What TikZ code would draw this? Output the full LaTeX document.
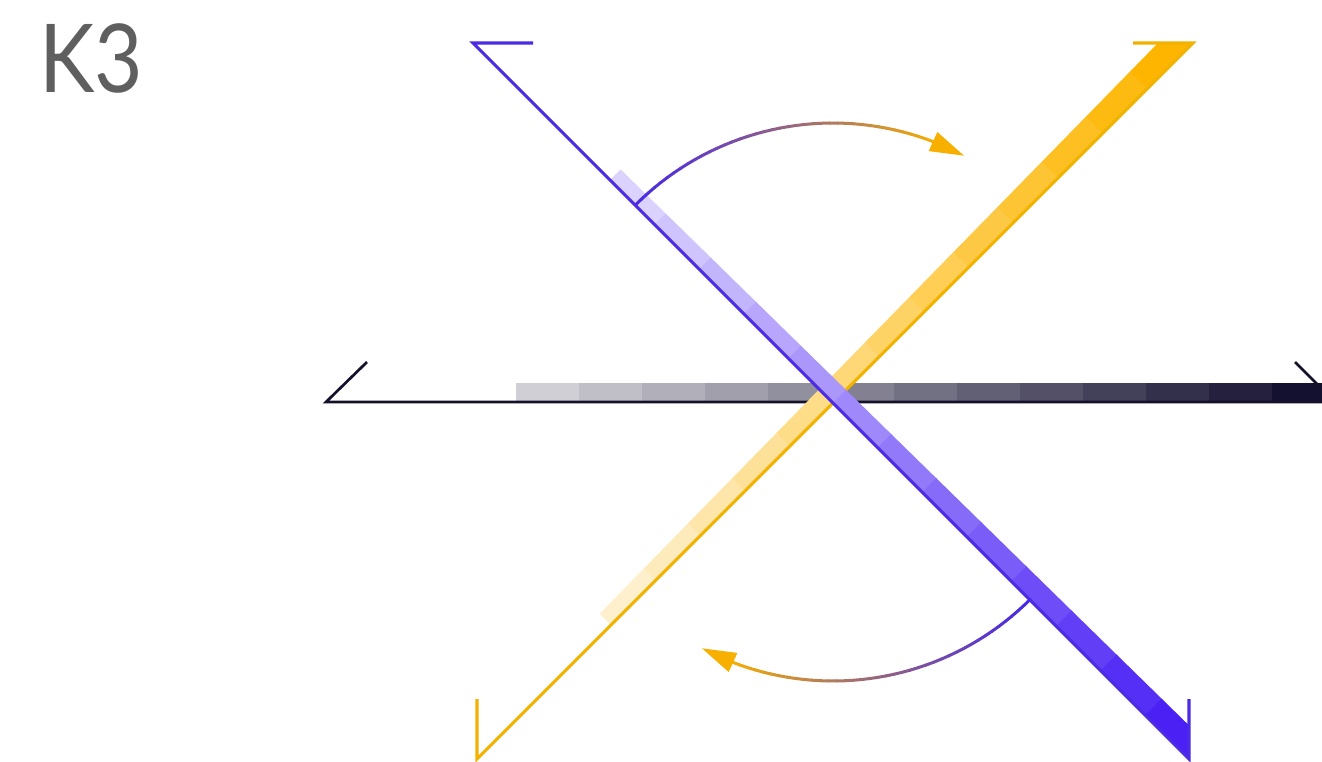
\documentclass[tikz,border=0pt]{standalone}
\usepackage{fontspec}
\newfontfamily\labelfont{Lato}
\usetikzlibrary{calc}
\definecolor{bluline}{HTML}{4B2BE3}
\definecolor{bluband}{HTML}{4A20F5}
\definecolor{orgline}{HTML}{F2B200}
\definecolor{orgband}{HTML}{FDB500}
\definecolor{navy}{HTML}{141030}
\definecolor{axisline}{HTML}{15112A}
\definecolor{labelgray}{HTML}{5F5F5F}
\definecolor{arcblue}{HTML}{4B2BE3}
\definecolor{arcorange}{HTML}{F8B000}
\tikzset{
  thinline/.style={line width=3.1pt, line join=miter, line cap=butt},
  arcpiece/.style={line width=3pt, line cap=round},
}
\begin{document}
\begin{tikzpicture}[x=1pt,y=-1pt]
\useasboundingbox (0,0) rectangle (1322,761);
\clip (0,0) rectangle (1322,761);
\fill[white] (0,0) rectangle (1322,761);

% label
\node[anchor=base west, inner sep=0pt, xscale=0.88, font=\labelfont\fontsize{95}{95}\selectfont, text=labelgray] (lbl) at (39,92) {K3};

% gray gradient bar on the horizontal axis
\foreach \k in {0,...,12}{
  \pgfmathsetmacro{\xa}{516+63*\k}
  \pgfmathsetmacro{\xb}{\xa+63.8}
  \pgfmathsetmacro{\p}{20+80*\k/12}
  \fill[navy!\p!white] (\xa,383) rectangle (\xb,401);
}
% horizontal axis
\coordinate (hl) at (326,402);
\coordinate (hr) at (1335,402);
\draw[thinline, axisline, line width=2.7pt] (367,362) -- (hl) -- (hr) -- (1295,362);

% orange band
\begin{scope}
\clip (0,43) rectangle (1322,761);
\foreach \k in {0,...,12}{
  \pgfmathsetmacro{\xa}{611+44.7*\k}
  \pgfmathsetmacro{\xb}{(\k==12) ? 1230 : (\xa+45.5)}
  \pgfmathsetmacro{\wa}{1+15+9*(\xa-611)/581}
  \pgfmathsetmacro{\wb}{1+15+9*(\xb-611)/581}
  \pgfmathsetmacro{\p}{20+80*\k/12}
  \fill[orgband!\p!white]
    ({\xa-0.7071},{1236-\xa-0.7071}) --
    ({\xb-0.7071},{1236-\xb-0.7071}) --
    ({\xb-0.7071*\wb},{1236-\xb-0.7071*\wb}) --
    ({\xa-0.7071*\wa},{1236-\xa-0.7071*\wa}) -- cycle;
}
\end{scope}
% orange line
\coordinate (ob) at (477,759);
\coordinate (ot) at (1193,43);
\draw[thinline, orgline] (477,699) -- (ob) -- (ot) -- (1133,43);

% blue band
\begin{scope}
\clip (0,0) rectangle (1189,761);
\foreach \k in {0,...,12}{
  \pgfmathsetmacro{\xa}{610+44.6*\k}
  \pgfmathsetmacro{\xb}{(\k==12) ? 1230 : (\xa+45.4)}
  \pgfmathsetmacro{\wa}{1+14+9*(\xa-610)/579}
  \pgfmathsetmacro{\wb}{1+14+9*(\xb-610)/579}
  \pgfmathsetmacro{\p}{20+80*\k/12}
  \fill[bluband!\p!white]
    ({\xa+0.7071},{\xa-430-0.7071}) --
    ({\xb+0.7071},{\xb-430-0.7071}) --
    ({\xb+0.7071*\wb},{\xb-430-0.7071*\wb}) --
    ({\xa+0.7071*\wa},{\xa-430-0.7071*\wa}) -- cycle;
}
\end{scope}
% blue line
\coordinate (bt) at (473,43);
\coordinate (bb) at (1189,759);
\draw[thinline, bluline] (533,43) -- (bt) -- (bb) -- (1189,699);

% curved arrows (gradient from blue to orange)
\coordinate (ctr) at (833,402);
\foreach \off in {0,180}{
  \foreach \i in {0,...,39}{
    \pgfmathsetmacro{\aa}{135+\off-1.7*\i}
    \pgfmathsetmacro{\ab}{\aa-1.8}
    \pgfmathsetmacro{\p}{100*(\i/39)^1.3}
    \draw[arcpiece, arcorange!\p!arcblue]
      ($(ctr)+({279*cos(\aa)},{-279*sin(\aa)})$) --
      ($(ctr)+({279*cos(\ab)},{-279*sin(\ab)})$);
  }
  \coordinate (tip) at ($(ctr)+({279*cos(62+\off)},{-279*sin(62+\off)})$);
  \coordinate (base) at ($(ctr)+({279*cos(69+\off)},{-279*sin(69+\off)})$);
  \fill[arcorange] (tip) -- ($(base)!10.5pt!90:(tip)$) -- ($(base)!10.5pt!-90:(tip)$) -- cycle;
}
\end{tikzpicture}
\end{document}
